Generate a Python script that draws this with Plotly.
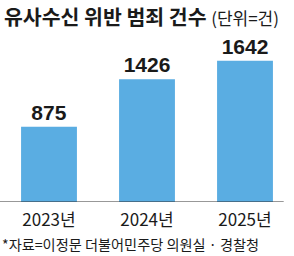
import plotly.graph_objects as go

years = ["2023년", "2024년", "2025년"]
counts = [875, 1426, 1642]
value_labels = ["875", "1426", "1642"]
title_main = "유사수신 위반 범죄 건수"
title_unit = "(단위=건)"
source = "*자료=이정문 더불어민주당 의원실 · 경찰청"

fig = go.Figure()
fig.add_trace(go.Bar(
    x=years, y=counts, width=0.57,
    marker=dict(color="#5aade2", line=dict(width=0)),
    text=value_labels, textposition="outside", cliponaxis=False,
    textfont=dict(family="Liberation Sans Narrow, Liberation Sans, Arial", size=21, color="#1a1a1a"),
    texttemplate="<b>%{text}</b>",
))
fig.update_layout(
    width=294, height=256,
    margin=dict(l=0, r=0, t=30, b=54),
    paper_bgcolor="white", plot_bgcolor="white",
    showlegend=False, bargap=0.43,
    xaxis=dict(showgrid=False, zeroline=False, showline=False, ticks="",
               ticklabelstandoff=6,
               tickfont=dict(family="Liberation Sans Narrow, Noto Sans CJK KR", size=17, color="#1a1a1a"),
               fixedrange=True),
    yaxis=dict(range=[0, 2000], visible=False, fixedrange=True),
    shapes=[dict(type="line", xref="paper", yref="y", x0=0, x1=0.965, y0=0, y1=0,
                 line=dict(color="#333333", width=1.2))],
    annotations=[
        dict(x=0, y=1, xref="paper", yref="paper", xanchor="left", yanchor="top",
             xshift=2, yshift=31, showarrow=False,
             text=f"<b>{title_main}</b> <span style='font-size:17px'>{title_unit}</span>",
             font=dict(family="Noto Sans CJK KR", size=20.5, color="#1a1a1a")),
        dict(x=0, y=0, xref="paper", yref="paper", xanchor="left", yanchor="bottom",
             yshift=-54, showarrow=False, text=source,
             font=dict(family="Noto Sans CJK KR", size=14.2, color="#1a1a1a")),
    ],
)
fig.write_html("out.html")
